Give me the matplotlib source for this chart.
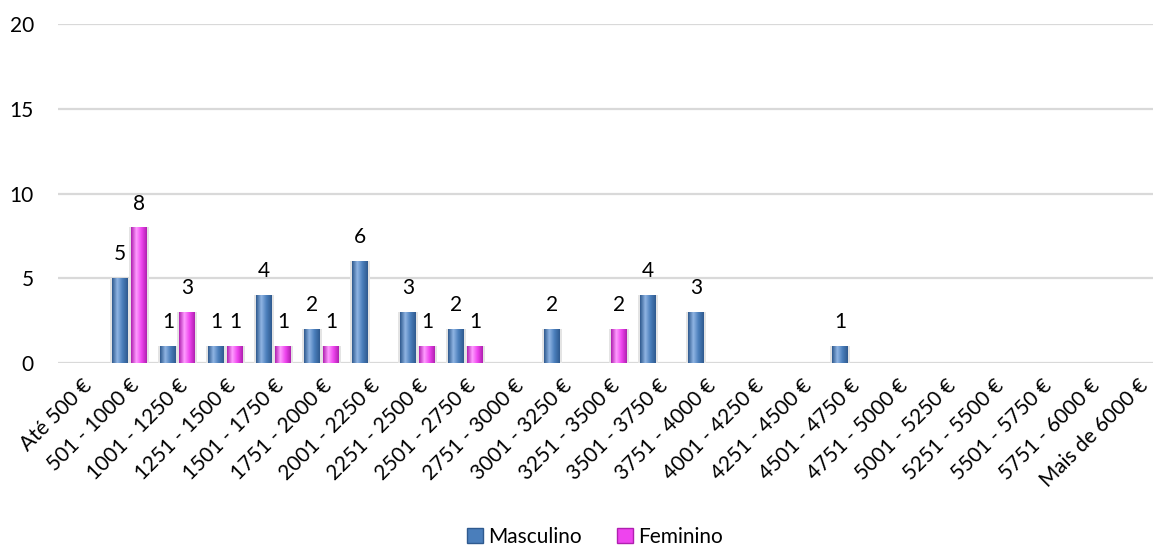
import numpy as np
import matplotlib.pyplot as plt
from matplotlib.patches import Patch

categories = ['Até 500 €', '501 - 1000 €', '1001 - 1250 €', '1251 - 1500 €',
              '1501 - 1750 €', '1751 - 2000 €', '2001 - 2250 €', '2251 - 2500 €',
              '2501 - 2750 €', '2751 - 3000 €', '3001 - 3250 €', '3251 - 3500 €',
              '3501 - 3750 €', '3751 - 4000 €', '4001 - 4250 €', '4251 - 4500 €',
              '4501 - 4750 €', '4751 - 5000 €', '5001 - 5250 €', '5251 - 5500 €',
              '5501 - 5750 €', '5751 - 6000 €', 'Mais de 6000 €']
masculino = [0, 5, 1, 1, 4, 2, 6, 3, 2, 0, 2, 0, 4, 3, 0, 0, 1, 0, 0, 0, 0, 0, 0]
feminino = [0, 8, 3, 1, 1, 1, 0, 1, 1, 0, 0, 2, 0, 0, 0, 0, 0, 0, 0, 0, 0, 0, 0]
y_ticks = [0, 5, 10, 15, 20]

plt.rcParams['font.family'] = ['Lato', 'DejaVu Sans']
FS = 15

W, H = 1153, 547
fig = plt.figure(figsize=(W / 100, H / 100), dpi=100)
# plot area runs past the right edge, as in the cropped original
ax = fig.add_axes([57.5 / W, (H - 363) / H, 23 * 48 / W, 339 / H])

x = np.arange(len(categories))
bw = 0.33
off = 0.198


def gradient_bars(xs, vals, dark, mid, light):
    bars = ax.bar(xs, vals, width=bw, color=mid, edgecolor='none', zorder=3)
    cmap = plt.matplotlib.colors.LinearSegmentedColormap.from_list('g', [dark, light, mid, dark])
    grad = np.linspace(0, 1, 64).reshape(1, -1)
    for b, v in zip(bars, vals):
        if v == 0:
            b.set_visible(False)
            continue
        x0 = b.get_x()
        # soft shadow
        ax.bar(x0 + bw / 2, v, width=bw * 1.25, color='#e4e4e4', zorder=2)
        im = ax.imshow(grad, cmap=cmap, aspect='auto', zorder=4,
                       extent=(x0, x0 + bw, 0, v))
        im.set_clip_path(b)
        ax.annotate(str(v), (x0 + bw / 2, v), xytext=(0, 10), textcoords='offset points',
                    ha='center', va='bottom', fontsize=FS, color='black', zorder=5)
    return bars


gradient_bars(x - off, masculino, '#2f5a8f', '#4a7ebb', '#8fb4e3')
gradient_bars(x + off, feminino, '#b020b0', '#ee44ee', '#ff9cff')

ax.set_xlim(-0.5, len(categories) - 0.5)
ax.set_ylim(0, 20)
ax.set_yticks(y_ticks)
ax.yaxis.grid(True, color='#d9d9d9', linewidth=1.6, zorder=0)
ax.set_axisbelow(True)
for s in ax.spines.values():
    s.set_visible(False)
ax.tick_params(axis='both', length=0, labelsize=FS)
ax.tick_params(axis='y', pad=17)
ax.set_xticks(x)
ax.set_xticklabels(categories, rotation=45, ha='right', rotation_mode='anchor')
ax.tick_params(axis='x', pad=9)

handles = [Patch(facecolor='#4a7ebb', edgecolor='#2f5a8f'),
           Patch(facecolor='#ee44ee', edgecolor='#b020b0')]
fig.legend(handles, ['Masculino', 'Feminino'], loc='center', bbox_to_anchor=(595 / W, 1 - 537 / H),
           ncol=2, frameon=False, fontsize=FS, handlelength=0.75, handleheight=0.75,
           handletextpad=0.25, columnspacing=1.7)

fig.savefig('out.png', dpi=100)
